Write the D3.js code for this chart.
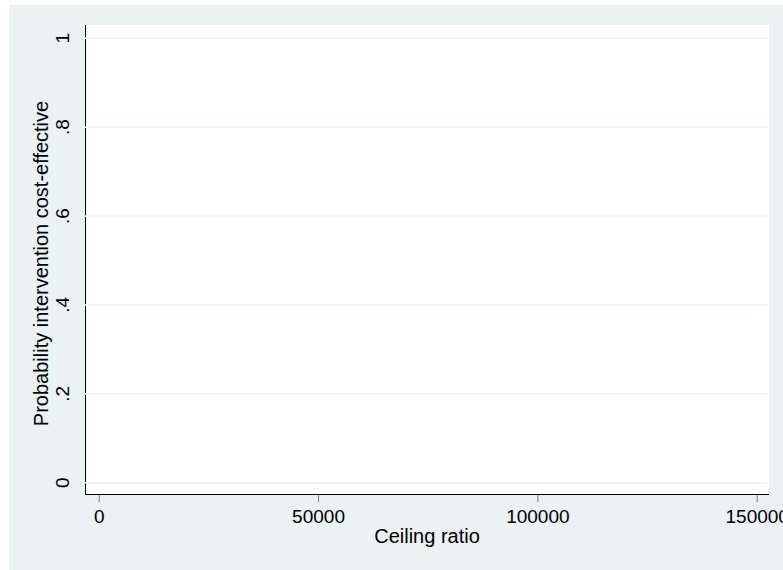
<!DOCTYPE html>
<html>
<head>
<meta charset="utf-8">
<script src="https://cdn.jsdelivr.net/npm/d3@7"></script>
<style>
  html, body { margin: 0; padding: 0; background: #ffffff; }
  svg { display: block; }
  text { font-family: "Liberation Sans", Arial, Helvetica, sans-serif; fill: #000; }
</style>
</head>
<body>
<script>
// ---- data ----
const xTicks = [0, 50000, 100000, 150000];
const xTickLabels = ["0", "50000", "100000", "150000"];
const yTicks = [0, 0.2, 0.4, 0.6, 0.8, 1];
const yTickLabels = ["0", ".2", ".4", ".6", ".8", "1"];
const xDomain = [0, 150000];
const yDomain = [0, 1];
const ceilingRatio = [];          // no curve drawn in the reference
const probCostEffective = [];     // no curve drawn in the reference
const xTitle = "Ceiling ratio";
const yTitle = "Probability intervention cost-effective";

// ---- layout ----
const W = 783, H = 570;
const bgColor = "#eaf2f3";
const plot = { left: 85, right: 769, top: 25, bottom: 494 };

const svg = d3.select("body").append("svg").attr("width", W).attr("height", H);

// outer background
svg.append("rect").attr("x", 9).attr("y", 5).attr("width", W - 9).attr("height", H - 5).attr("fill", bgColor);
// plot region
svg.append("rect").attr("x", plot.left).attr("y", plot.top)
  .attr("width", plot.right - plot.left).attr("height", plot.bottom - plot.top).attr("fill", "#ffffff");

const x = d3.scaleLinear().domain(xDomain).range([98.7, 756.7]);
const y = d3.scaleLinear().domain(yDomain).range([482.7, 38.3]);

// gridlines
svg.append("g").selectAll("line").data(yTicks).join("line")
  .attr("x1", plot.left + 3).attr("x2", plot.right - 1.5)
  .attr("y1", d => y(d)).attr("y2", d => y(d))
  .attr("stroke", bgColor).attr("stroke-width", 1.5);

// series (empty)
const pts = ceilingRatio.map((c, i) => [c, probCostEffective[i]]);
svg.append("path").datum(pts)
  .attr("fill", "none").attr("stroke", "#1a476f").attr("stroke-width", 1.5)
  .attr("d", d3.line().x(d => x(d[0])).y(d => y(d[1])));

// axis lines
svg.append("line").attr("x1", plot.left + 0.5).attr("x2", plot.left + 0.5)
  .attr("y1", plot.top).attr("y2", plot.bottom + 0.5).attr("stroke", "#000").attr("stroke-width", 1);
svg.append("line").attr("x1", plot.left).attr("x2", plot.right)
  .attr("y1", plot.bottom + 0.5).attr("y2", plot.bottom + 0.5).attr("stroke", "#000").attr("stroke-width", 1);

// y ticks (white, across axis)
svg.append("g").selectAll("line").data(yTicks).join("line")
  .attr("x1", plot.left - 2).attr("x2", plot.left + 3)
  .attr("y1", d => y(d)).attr("y2", d => y(d))
  .attr("stroke", "#ffffff").attr("stroke-width", 1.5);

// x axis via d3
const xAxis = d3.axisBottom(x).tickValues(xTicks)
  .tickFormat((d, i) => xTickLabels[i]).tickSizeInner(7).tickSizeOuter(0).tickPadding(8);
const gx = svg.append("g").attr("transform", `translate(0,${plot.bottom + 1})`).call(xAxis);
gx.select(".domain").remove();
gx.selectAll(".tick line").attr("stroke", "#777").attr("stroke-width", 1);
gx.selectAll(".tick text").attr("font-size", 19).attr("fill", "#000")
  .style("font-family", '"Liberation Sans", Arial, sans-serif');

// y tick labels rotated
svg.append("g").selectAll("text").data(yTicks).join("text")
  .attr("transform", d => `translate(69,${y(d)}) rotate(-90)`)
  .attr("text-anchor", "middle").attr("font-size", 19)
  .text((d, i) => yTickLabels[i]);

// titles
svg.append("text").attr("x", 427).attr("y", 543).attr("text-anchor", "middle")
  .attr("font-size", 20).text(xTitle);
svg.append("text").attr("transform", `translate(48,263.5) rotate(-90)`)
  .attr("text-anchor", "middle").attr("font-size", 20).text(yTitle);
</script>
</body>
</html>
